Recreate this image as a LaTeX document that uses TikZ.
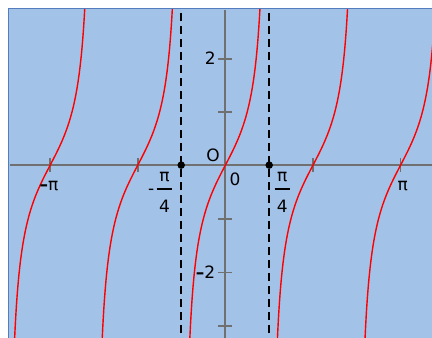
\documentclass[tikz,border=0pt]{standalone}
\usepackage{fontspec}
\setmainfont{DejaVu Sans}
\definecolor{bgblue}{RGB}{163,194,232}
\definecolor{borderblue}{RGB}{84,125,192}
\definecolor{axisgray}{RGB}{112,112,112}
\begin{document}
\begin{tikzpicture}[x=1pt,y=-1pt,
  lbl/.style={font=\fontsize{17}{20}\selectfont, inner sep=0pt, text=black},
  axisline/.style={draw=axisgray, line width=1.7pt},
  curve/.style={draw=red, line width=1.4pt},
  asym/.style={draw=black, line width=1.6pt, dash pattern=on 8pt off 5pt},
  dot/.style={circle, fill=black, inner sep=0pt, minimum size=7.5pt},
  fracbar/.style={draw=black, line width=1.5pt}]
\useasboundingbox (0,0) rectangle (432,338);
% background
\fill[bgblue] (8,8) rectangle (432,338);
\draw[borderblue, line width=1.5pt] (8.7,338) -- (8.7,8.7) -- (432,8.7);
% axes
\coordinate (xl) at (9.5,165.1);
\coordinate (xr) at (432,165.1);
\coordinate (yt) at (225.2,9.5);
\coordinate (yb) at (225.2,338);
\draw[axisline] (xl) -- (xr);
\draw[axisline] (yt) -- (yb);
\foreach \xx in {50.1,137.7,312.9,400.5} {
  \draw[axisline] (\xx,158.1) -- (\xx,172.1);
}
\foreach \yy in {59,112.3,219,272.4,325.8} {
  \draw[axisline] (218.3,\yy) -- (232.3,\yy);
}
% asymptotes
\coordinate (al1) at (181.2,13);
\coordinate (al2) at (181.2,338);
\coordinate (ar1) at (269.2,13);
\coordinate (ar2) at (269.2,338);
\draw[asym] (al1) -- (al2);
\draw[asym] (ar1) -- (ar2);
% curves y = tan(2x)
\begin{scope}
\clip (9.4,9.4) rectangle (432,338);
\foreach \k in {-2,...,2} {
  \pgfmathsetmacro\ta{(\k*pi-1.32)/2}
  \pgfmathsetmacro\tb{(\k*pi+1.32)/2}
  \draw[curve] plot[domain=\ta:\tb, samples=160] ({225.3+55.77*\x},{165.3-53.35*tan(deg(2*\x))});
}
\end{scope}
% points
\node[dot] (pl) at (181.2,165.1) {};
\node[dot] (pr) at (269.2,165.1) {};
% labels
\node[lbl] (l2) at (210.2,58.6) {2};
\node[lbl, anchor=east] (lm2) at (215.5,272.6) {{\bfseries –}2};
\node[lbl] (lO) at (213,155) {O};
\node[lbl] (l0) at (235,179) {0};
\node[lbl] (lmpi) at (49,186.5) {{\bfseries –}π};
\node[lbl] (lpi) at (402.8,186.5) {π};
% -pi/4
\node[lbl] (lpa) at (164.5,177.5) {π};
\node[lbl] (l4a) at (164.5,206.5) {4};
\node[lbl] (lmin) at (151.3,192) {-};
\coordinate (ba1) at (156.7,189);
\coordinate (ba2) at (172.3,189);
\draw[fracbar] (ba1) -- (ba2);
% pi/4
\node[lbl] (lpb) at (282.3,177.5) {π};
\node[lbl] (l4b) at (282.3,206.5) {4};
\coordinate (bb1) at (274.5,189);
\coordinate (bb2) at (290,189);
\draw[fracbar] (bb1) -- (bb2);
\end{tikzpicture}
\end{document}
